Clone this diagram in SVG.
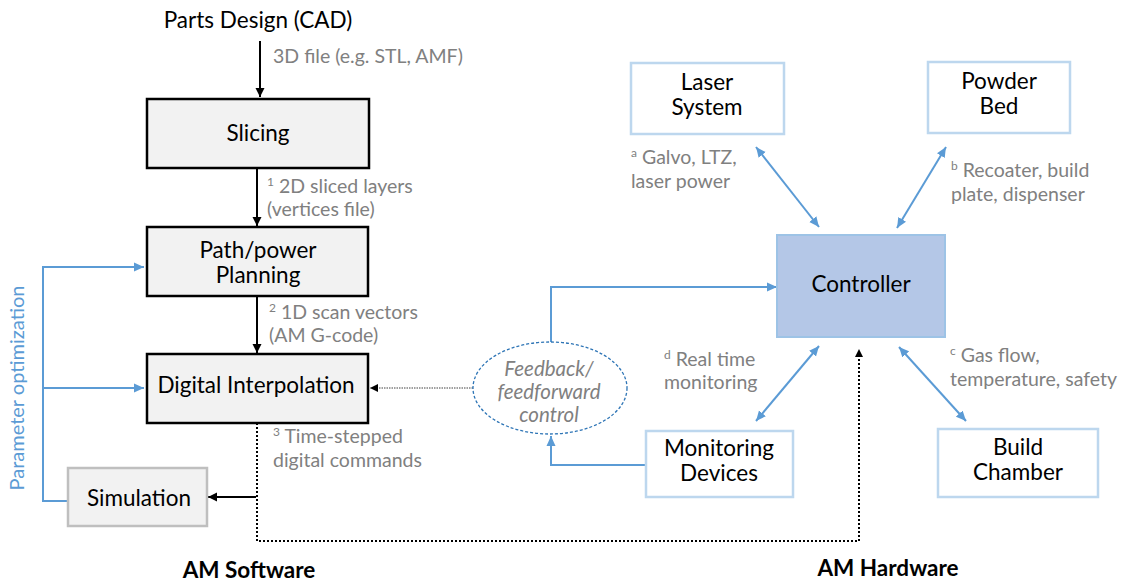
<svg xmlns="http://www.w3.org/2000/svg" width="1129" height="581" viewBox="0 0 1129 581">
<style>
text{font-family:Lato,"Open Sans","Liberation Sans",sans-serif}
.main{font-size:22.5px;fill:#000;text-anchor:middle}
.lbl{font-size:19.5px;fill:#808080}
.sup{font-size:12px}
.bold{font-size:22.5px;font-weight:bold;fill:#000;text-anchor:middle}
.ital{font-size:20.5px;font-style:italic;fill:#808080;text-anchor:middle}
.sw{fill:#f2f2f2;stroke:#000;stroke-width:2.5}
.hw{fill:#fff;stroke:#bdd7ee;stroke-width:2.5}
.blk{stroke:#000;stroke-width:2;fill:none}
.blu{stroke:#5b9bd5;stroke-width:2;fill:none}
</style>
<defs>
<marker id="ab" markerUnits="userSpaceOnUse" markerWidth="10" markerHeight="10" refX="9" refY="5" orient="auto"><path d="M0,0.5 L9,5 L0,9.5 z" fill="#000"/></marker>
<marker id="abs" markerUnits="userSpaceOnUse" markerWidth="8" markerHeight="8" refX="8" refY="4" orient="auto"><path d="M0,0 L8,4 L0,8 z" fill="#000"/></marker>
<marker id="au" markerUnits="userSpaceOnUse" markerWidth="11" markerHeight="10" refX="10" refY="5" orient="auto-start-reverse"><path d="M0,0.5 L10,5 L0,9.5 z" fill="#5b9bd5"/></marker>
</defs>

<g id="connectors">
<line class="blk" x1="260" y1="41" x2="260" y2="97" marker-end="url(#ab)"/>
<line class="blk" x1="257" y1="168" x2="257" y2="226" marker-end="url(#ab)"/>
<line class="blk" x1="257" y1="296" x2="257" y2="353" marker-end="url(#ab)"/>
<path d="M257,423 V541 H859 V349" stroke="#000" stroke-width="2" fill="none" stroke-dasharray="2 2" marker-end="url(#abs)"/>
<line class="blk" x1="256" y1="497" x2="208" y2="497" stroke-width="1.5" marker-end="url(#ab)"/>
<line x1="473" y1="388" x2="370" y2="388" stroke="#404040" stroke-width="1" stroke-dasharray="1.5 1" marker-end="url(#abs)"/>
<path class="blu" d="M68,501 H43 V267 H144" marker-end="url(#au)"/>
<line class="blu" x1="43" y1="388" x2="144" y2="388" marker-end="url(#au)"/>
<path class="blu" d="M551,342 V287 H777" marker-end="url(#au)"/>
<path class="blu" d="M646,465 H551 V436" marker-end="url(#au)"/>
<line class="blu" x1="756" y1="147" x2="819" y2="227" marker-start="url(#au)" marker-end="url(#au)"/>
<line class="blu" x1="946" y1="147" x2="897" y2="228" marker-start="url(#au)" marker-end="url(#au)"/>
<line class="blu" x1="819" y1="346" x2="756" y2="421" marker-start="url(#au)" marker-end="url(#au)"/>
<line class="blu" x1="899" y1="347" x2="966" y2="421" marker-start="url(#au)" marker-end="url(#au)"/>
</g>

<g id="parts-design"><text class="main" x="258" y="28">Parts Design (CAD)</text></g>
<g id="label-3d"><text class="lbl" x="273" y="63">3D file (e.g. STL, AMF)</text></g>

<g id="slicing"><rect class="sw" x="147" y="99" width="222" height="69"/><text class="main" x="258" y="141">Slicing</text></g>
<g id="label-1"><text class="lbl" x="267" y="193"><tspan class="sup" dy="-7">1</tspan><tspan dy="7"> 2D sliced layers</tspan><tspan x="267" y="216">(vertices file)</tspan></text></g>

<g id="path-planning"><rect class="sw" x="147" y="227" width="221" height="69"/><text class="main" x="258" y="258">Path/power<tspan x="258" y="283">Planning</tspan></text></g>
<g id="label-2"><text class="lbl" x="269" y="319"><tspan class="sup" dy="-7">2</tspan><tspan dy="7"> 1D scan vectors</tspan><tspan x="269" y="342">(AM G-code)</tspan></text></g>

<g id="digital-interpolation"><rect class="sw" x="147" y="354" width="221" height="69"/><text class="main" x="256" y="393">Digital Interpolation</text></g>
<g id="label-3"><text class="lbl" x="273" y="443"><tspan class="sup" dy="-7">3</tspan><tspan dy="7"> Time-stepped</tspan><tspan x="273" y="467">digital commands</tspan></text></g>

<g id="simulation"><rect x="68" y="468" width="139" height="58" fill="#f2f2f2" stroke="#bfbfbf" stroke-width="2.5"/><text class="main" x="139" y="506">Simulation</text></g>

<g id="param-opt"><text transform="translate(24,388) rotate(-90)" font-size="20" fill="#5b9bd5" text-anchor="middle">Parameter optimization</text></g>

<g id="feedback"><ellipse cx="550" cy="388" rx="77" ry="46" fill="#fff" stroke="#2e75b6" stroke-width="1.3" stroke-dasharray="3 2"/><text class="ital" x="549" y="376">Feedback/<tspan x="549" y="399">feedforward</tspan><tspan x="549" y="422">control</tspan></text></g>

<g id="laser-system"><rect class="hw" x="631" y="63" width="153" height="71"/><text class="main" x="707" y="90">Laser<tspan x="707" y="115">System</tspan></text></g>
<g id="label-a"><text class="lbl" x="631" y="164"><tspan class="sup" dy="-7">a</tspan><tspan dy="7"> Galvo, LTZ,</tspan><tspan x="631" y="188">laser power</tspan></text></g>

<g id="powder-bed"><rect class="hw" x="928" y="62" width="142" height="71"/><text class="main" x="999" y="89">Powder<tspan x="999" y="114">Bed</tspan></text></g>
<g id="label-b"><text class="lbl" x="951" y="177"><tspan class="sup" dy="-7">b</tspan><tspan dy="7"> Recoater, build</tspan><tspan x="951" y="201">plate, dispenser</tspan></text></g>

<g id="controller"><rect x="777" y="235" width="168" height="102" fill="#b4c7e7" stroke="#9dc3e6" stroke-width="2"/><text class="main" x="861" y="292">Controller</text></g>

<g id="label-d"><text class="lbl" x="664" y="366"><tspan class="sup" dy="-7">d</tspan><tspan dy="7"> Real time</tspan><tspan x="664" y="389">monitoring</tspan></text></g>
<g id="label-c"><text class="lbl" x="950" y="362"><tspan class="sup" dy="-7">c</tspan><tspan dy="7"> Gas flow,</tspan><tspan x="950" y="386">temperature, safety</tspan></text></g>

<g id="monitoring-devices"><rect class="hw" x="646" y="431" width="147" height="66"/><text class="main" x="719" y="456">Monitoring<tspan x="719" y="481">Devices</tspan></text></g>
<g id="build-chamber"><rect class="hw" x="938" y="429" width="160" height="68"/><text class="main" x="1018" y="455">Build<tspan x="1018" y="480">Chamber</tspan></text></g>

<g id="am-software"><text class="bold" x="249" y="578">AM Software</text></g>
<g id="am-hardware"><text class="bold" x="888" y="576">AM Hardware</text></g>
</svg>
